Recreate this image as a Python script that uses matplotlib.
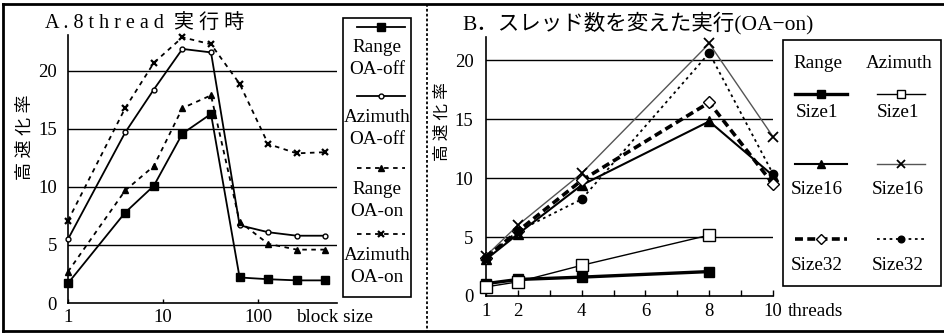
import matplotlib
matplotlib.use('Agg')
import matplotlib.pyplot as plt
from matplotlib.lines import Line2D
from matplotlib.patches import Rectangle

W, H = 945, 334
plt.rcParams['font.family'] = ['Liberation Serif', 'Noto Sans CJK JP', 'DejaVu Sans']

# ---------------- data ----------------
# Panel A: 8 threads, speedup vs block size
block_sizes = [1, 4, 8, 16, 32, 64, 128, 256, 512]
a_range_off = [1.7, 7.8, 10.1, 14.6, 16.3, 2.2, 2.05, 1.95, 1.95]
a_azimuth_off = [5.5, 14.7, 18.4, 21.9, 21.6, 6.7, 6.1, 5.8, 5.8]
a_range_on = [2.7, 9.7, 11.8, 16.8, 17.9, 7.0, 5.1, 4.6, 4.6]
a_azimuth_on = [7.1, 16.8, 20.7, 22.9, 22.3, 18.9, 13.7, 12.9, 13.0]
a_series_labels = [['Range', 'OA-off'], ['Azimuth', 'OA-off'],
                   ['Range', 'OA-on'], ['Azimuth', 'OA-on']]
a_xticks = [1, 10, 100]
a_yticks = [0, 5, 10, 15, 20]

# Panel B: speedup vs threads (OA-on)
threads = [1, 2, 4, 8, 10]
threads_s1 = [1, 2, 4, 8]
b_range_s1 = [1.05, 1.4, 1.6, 2.07]
b_azimuth_s1 = [0.77, 1.2, 2.6, 5.16]
b_range_s16 = [3.1, 5.25, 9.4, 14.8, 10.2]
b_azimuth_s16 = [3.4, 6.0, 10.4, 21.4, 13.5]
b_range_s32 = [3.26, 5.5, 9.8, 16.4, 9.5]
b_azimuth_s32 = [3.26, 5.5, 8.2, 20.6, 10.35]
b_headers = ['Range', 'Azimuth']
b_size_labels = ['Size1', 'Size16', 'Size32']
b_xticks = [1, 2, 4, 6, 8, 10]
b_yticks = [0, 5, 10, 15, 20]

title_a = 'A . 8 t h r e a d  実 行 時'
title_b = 'B．スレッド数を変えた実行(OA−on)'
ylabel = '高 速 化 率'

# ---------------- helpers ----------------
fig = plt.figure(figsize=(W / 100, H / 100), dpi=100)


def rect(l, t, r, b):
    return [l / W, 1 - b / H, (r - l) / W, (b - t) / H]


def fx(x):
    return x / W


def fy(y):
    return 1 - y / H


TICK_FS = 13.5
LAB_FS = 13.8

# ---------------- panel A ----------------
axA = fig.add_axes(rect(68, 35, 337, 303))
axA.set_xscale('log')
axA.set_xlim(1, 678)
axA.set_ylim(0, 23.1)
for s in ['top', 'right']:
    axA.spines[s].set_visible(False)
for s in ['left', 'bottom']:
    axA.spines[s].set_linewidth(1.2)
for y in a_yticks[1:]:
    axA.axhline(y, color='black', lw=1.0, zorder=1)

styleA = [
    dict(ls='-', marker='s', ms=5.5, mfc='black', lw=1.3),
    dict(ls='-', marker='o', ms=3.5, mfc='white', lw=1.3),
    dict(ls=(0, (2.5, 2.5)), marker='^', ms=5, mfc='black', lw=1.3),
    dict(ls=(0, (2.5, 2.5)), marker='x', ms=5, mew=1.6, lw=1.3),
]
seriesA = [a_range_off, a_azimuth_off, a_range_on, a_azimuth_on]
for vals, st in zip(seriesA, styleA):
    axA.plot(block_sizes, vals, color='black', mec='black', zorder=3, clip_on=False, **st)

axA.set_xticks(a_xticks)
axA.set_xticklabels([str(v) for v in a_xticks])
axA.xaxis.set_minor_locator(matplotlib.ticker.NullLocator())
axA.tick_params(axis='x', direction='in', length=3, width=1, pad=4, labelsize=TICK_FS)
axA.set_yticks(a_yticks)
axA.tick_params(axis='y', length=0, pad=8, labelsize=TICK_FS)
fig.text(fx(334), fy(317), 'block size', ha='center', va='center', fontsize=LAB_FS)
fig.text(fx(25), fy(137), ylabel, rotation=90, ha='center', va='center', fontsize=13)
fig.text(fx(45), fy(23), title_a, ha='left', va='center', fontsize=14.5)

# legend A
fig.add_artist(Rectangle((fx(343), fy(297)), (411 - 343) / W, (297 - 18) / H,
                         transform=fig.transFigure, fill=False, ec='black', lw=1.2))
leg_line_y = [27, 96, 168, 234]
for i, (st, lab) in enumerate(zip(styleA, a_series_labels)):
    ly = leg_line_y[i]
    fig.add_artist(Line2D([fx(357), fx(405)], [fy(ly), fy(ly)], color='black', lw=1.3,
                          ls=st['ls'], transform=fig.transFigure))
    fig.add_artist(Line2D([fx(381)], [fy(ly)], color='black', ls='none', marker=st['marker'],
                          ms=st['ms'], mfc=st.get('mfc', 'black'), mec='black',
                          mew=st.get('mew', 1.0), transform=fig.transFigure))
    fig.text(fx(377), fy(ly + 21), lab[0], ha='center', va='center', fontsize=LAB_FS)
    fig.text(fx(377), fy(ly + 43), lab[1], ha='center', va='center', fontsize=LAB_FS)

# ---------------- panel B ----------------
axB = fig.add_axes(rect(486, 37, 773, 296))
axB.set_xlim(1, 10)
axB.set_ylim(0, 21.95)
for s in ['top', 'right']:
    axB.spines[s].set_visible(False)
for s in ['left', 'bottom']:
    axB.spines[s].set_linewidth(1.2)
for y in b_yticks[1:]:
    axB.axhline(y, color='black', lw=1.0, zorder=1)

stylesB = [
    (threads_s1, b_range_s1, dict(ls='-', lw=2.4, marker='s', ms=7, mfc='black', color='black')),
    (threads_s1, b_azimuth_s1, dict(ls='-', lw=1.0, marker='s', ms=8, mfc='white', color='black')),
    (threads, b_range_s16, dict(ls='-', lw=1.5, marker='^', ms=6.5, mfc='black', color='black')),
    (threads, b_azimuth_s16, dict(ls='-', lw=1.0, marker='x', ms=7, mew=1.3, color='#555555')),
    (threads, b_range_s32, dict(ls=(0, (2.2, 1.2)), lw=2.6, marker='D', ms=6, mfc='white', color='black')),
    (threads, b_azimuth_s32, dict(ls=(0, (1.5, 2.0)), lw=1.3, marker='o', ms=6, mfc='black', color='black')),
]
for xs, ys, st in stylesB:
    axB.plot(xs, ys, mec='black', zorder=3, clip_on=False, **st)

axB.set_xticks(range(1, 11))
axB.set_xticklabels([str(v) if v in b_xticks else '' for v in range(1, 11)])
axB.tick_params(axis='x', direction='in', length=4, width=1, pad=5, labelsize=TICK_FS)
axB.set_yticks(b_yticks)
axB.tick_params(axis='y', length=0, pad=9, labelsize=TICK_FS)
fig.text(fx(815), fy(311), 'threads', ha='center', va='center', fontsize=LAB_FS)
fig.text(fx(443), fy(122), ylabel, rotation=90, ha='center', va='center', fontsize=12)
fig.text(fx(462), fy(23), title_b, ha='left', va='center', fontsize=15.5)

# legend B
fig.add_artist(Rectangle((fx(783), fy(286)), (941 - 783) / W, (286 - 40) / H,
                         transform=fig.transFigure, fill=False, ec='black', lw=1.2))
col_cx = [818, 899]
col_seg = [(795, 847), (877, 925)]
row_line_y = [94, 164, 239]
row_lab_y = [113, 189, 266]
for c, head in enumerate(b_headers):
    fig.text(fx(col_cx[c]), fy(63), head, ha='center', va='center', fontsize=LAB_FS)
for i, (xs, ys, st) in enumerate(stylesB):
    row, col = i // 2, i % 2
    x0, x1 = col_seg[col]
    ly = row_line_y[row]
    fig.add_artist(Line2D([fx(x0), fx(x1)], [fy(ly), fy(ly)], color=st['color'], lw=st['lw'],
                          ls=st['ls'], transform=fig.transFigure))
    fig.add_artist(Line2D([fx((x0 + x1) / 2)], [fy(ly)], ls='none', marker=st['marker'],
                          ms=st['ms'] * 0.8, mfc=st.get('mfc', 'black'), mec='black',
                          mew=st.get('mew', 1.0), color=st['color'], transform=fig.transFigure))
    fig.text(fx(col_cx[col] - 1), fy(row_lab_y[row]), b_size_labels[row], ha='center',
             va='center', fontsize=LAB_FS)

# ---------------- frame & divider ----------------
fig.add_artist(Line2D([fx(3), fx(945)], [fy(4), fy(4)], color='black', lw=2.0, transform=fig.transFigure))
fig.add_artist(Line2D([fx(3), fx(945)], [fy(331), fy(331)], color='black', lw=2.0, transform=fig.transFigure))
fig.add_artist(Line2D([fx(3), fx(3)], [fy(4), fy(331)], color='black', lw=2.0, transform=fig.transFigure))
fig.add_artist(Line2D([fx(427), fx(427)], [fy(4), fy(331)], color='black', lw=1.3,
                      ls=(0, (1.5, 1.2)), transform=fig.transFigure))

fig.savefig('out.png', dpi=100)
